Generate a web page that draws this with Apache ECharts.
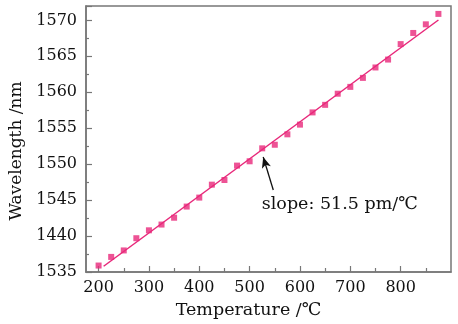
<!DOCTYPE html>
<html><head><meta charset="utf-8">
<script src="https://cdn.jsdelivr.net/npm/echarts@6/dist/echarts.min.js"></script>
<style>html,body{margin:0;padding:0;background:#fff}#c{width:458px;height:324px}</style>
</head><body><div id="c"></div>
<script>
const temps = [200,225,250,275,300,325,350,375,400,425,450,475,500,525,550,575,600,625,650,675,700,725,750,775,800,825,850,875];
const wavelengths = [1535.9,1537.1,1538.0,1539.7,1540.8,1541.6,1542.55,1544.1,1545.35,1547.15,1547.8,1549.8,1550.4,1552.2,1552.7,1554.15,1555.5,1557.2,1558.25,1559.8,1560.75,1562.0,1563.45,1564.55,1566.7,1568.25,1569.45,1570.9];
const fitLine = [[210,1535.8],[875,1570.05]];
const xTickLabels = [200,300,400,500,600,700,800];
const xMinorTicks = [250,350,450,550,650,750,850];
const yTickLabels = {1535:'1535',1540:'1440',1545:'1545',1550:'1550',1555:'1555',1560:'1560',1565:'1565',1570:'1570'};
const slopeText = 'slope: 51.5 pm/℃';
const arrowFrom = [547,1546.4];
const arrowTo = [527,1551.0];
const textAt = [679,1544.4];

const font = 'DejaVu Serif';
const pink = '#e8287a';
const axisGray = '#777';
const chart = echarts.init(document.getElementById('c'));
chart.setOption({
  animation:false,
  backgroundColor:'#fff',
  grid:{left:86,top:6,right:7,bottom:50,show:true,borderColor:axisGray,borderWidth:1.5,backgroundColor:'transparent'},
  xAxis:[{
    type:'value',min:175,max:900,
    name:'Temperature /℃',nameLocation:'middle',nameGap:29,
    nameTextStyle:{fontFamily:font,fontSize:17.5,color:'#111',padding:[0,40,0,0]},
    axisLine:{show:true,lineStyle:{color:axisGray,width:1.5}},
    axisTick:{show:true,inside:true,length:6,customValues:xTickLabels,lineStyle:{color:axisGray,width:1.2}},
    axisLabel:{customValues:xTickLabels,fontFamily:font,fontSize:16,color:'#111',margin:8},
    splitLine:{show:false}
  },{
    type:'value',min:175,max:900,position:'bottom',
    axisLine:{show:false},
    axisTick:{show:true,inside:true,length:4,customValues:xMinorTicks,lineStyle:{color:axisGray,width:1.2}},
    axisLabel:{show:false},
    splitLine:{show:false}
  }],
  yAxis:{
    type:'value',min:1535,max:1572,interval:5,
    name:'Wavelength /nm',nameLocation:'middle',nameGap:51,
    nameTextStyle:{fontFamily:font,fontSize:17,color:'#111',padding:[0,24,0,0]},
    axisLine:{show:true,lineStyle:{color:axisGray,width:1.5}},
    axisTick:{show:true,inside:true,length:6,lineStyle:{color:axisGray,width:1.2}},
    minorTick:{show:true,splitNumber:2,length:3,lineStyle:{color:axisGray,width:1.2}},
    axisLabel:{fontFamily:font,fontSize:16,color:'#111',margin:9,formatter:v=>yTickLabels[v]!==undefined?yTickLabels[v]:''},
    splitLine:{show:false}
  },
  series:[{
    type:'line',data:fitLine,xAxisIndex:0,showSymbol:false,symbol:'none',
    lineStyle:{color:pink,width:1.5},silent:true,
    markLine:{
      silent:true,symbol:['none','arrow'],symbolSize:[7,11],
      lineStyle:{color:'#111',width:1.3,type:'solid'},label:{show:false},
      data:[[{coord:arrowFrom},{coord:arrowTo}]]
    },
    markPoint:{
      symbol:'circle',symbolSize:0,
      label:{show:true,formatter:slopeText,fontFamily:font,fontSize:17.5,color:'#111',position:'inside'},
      data:[{coord:textAt}]
    }
  },{
    type:'scatter',xAxisIndex:0,data:temps.map((t,i)=>[t,wavelengths[i]]),
    symbol:'rect',symbolSize:6,itemStyle:{color:pink}
  }]
});
</script></body></html>
